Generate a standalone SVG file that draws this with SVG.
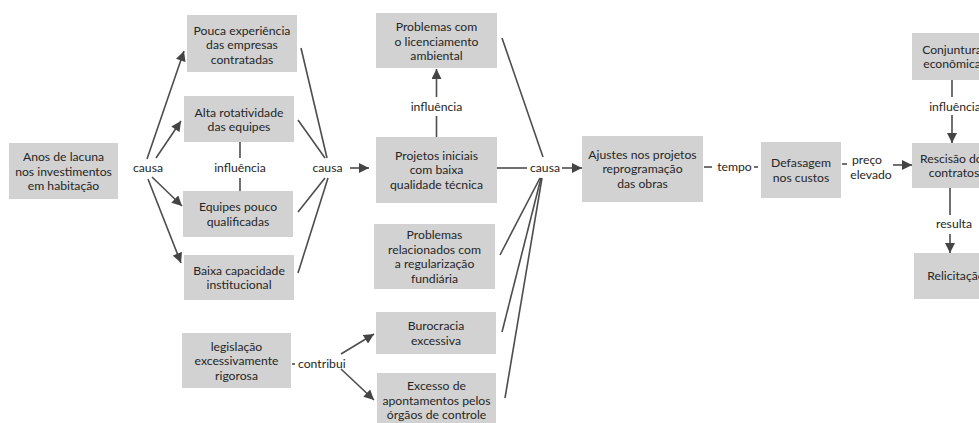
<svg xmlns="http://www.w3.org/2000/svg" width="979" height="423" viewBox="0 0 979 423">
<defs>
<marker id="ah" viewBox="0 0 10 10" refX="10" refY="5" markerWidth="11" markerHeight="10" markerUnits="userSpaceOnUse" orient="auto">
<path d="M0,0 L10,5 L0,10 z" fill="#444"/>
</marker>
</defs>
<style>
.box{fill:#d2d2d2}
text{font-family:Lato,"Open Sans","Liberation Sans",sans-serif;font-size:12.2px;fill:#262626;text-anchor:middle}
.c line,.c path{stroke:#4d4d4d;stroke-width:1.6;fill:none}
.a{marker-end:url(#ah)}
</style>
<rect width="979" height="423" fill="#fff"/>

<g id="anos"><rect class="box" x="9" y="143" width="109" height="56"/>
<text x="63.5" y="161">Anos de lacuna</text><text x="63.5" y="175.5">nos investimentos</text><text x="63.5" y="190">em habitação</text></g>

<g id="pouca"><rect class="box" x="187" y="15" width="110" height="57"/>
<text x="242" y="34.5">Pouca experiência</text><text x="242" y="49">das empresas</text><text x="242" y="63.5">contratadas</text></g>

<g id="alta"><rect class="box" x="184" y="96" width="110" height="46"/>
<text x="239" y="116.5">Alta rotatividade</text><text x="239" y="131">das equipes</text></g>

<g id="equipes"><rect class="box" x="183" y="191" width="110" height="46"/>
<text x="238" y="211">Equipes pouco</text><text x="238" y="225.5">qualificadas</text></g>

<g id="baixa"><rect class="box" x="184" y="255" width="110" height="45"/>
<text x="239" y="274.5">Baixa capacidade</text><text x="239" y="289">institucional</text></g>

<g id="legislacao"><rect class="box" x="182" y="333" width="109" height="55"/>
<text x="236.5" y="350.5">legislação</text><text x="236.5" y="365">excessivamente</text><text x="236.5" y="379.5">rigorosa</text></g>

<g id="licenciamento"><rect class="box" x="376" y="13" width="121" height="55"/>
<text x="436.5" y="31">Problemas com</text><text x="436.5" y="45.5">o licenciamento</text><text x="436.5" y="60">ambiental</text></g>

<g id="projetos"><rect class="box" x="376" y="137" width="121" height="66"/>
<text x="436.5" y="159.5">Projetos iniciais</text><text x="436.5" y="174">com baixa</text><text x="436.5" y="188.5">qualidade técnica</text></g>

<g id="fundiaria"><rect class="box" x="374" y="224" width="121" height="65"/>
<text x="434.5" y="239">Problemas</text><text x="434.5" y="253.5">relacionados com</text><text x="434.5" y="268">a regularização</text><text x="434.5" y="282.5">fundiária</text></g>

<g id="burocracia"><rect class="box" x="376" y="312" width="120" height="42"/>
<text x="436" y="330">Burocracia</text><text x="436" y="344.5">excessiva</text></g>

<g id="excesso"><rect class="box" x="377" y="373" width="119" height="54"/>
<text x="436.5" y="390">Excesso de</text><text x="436.5" y="404.5">apontamentos pelos</text><text x="436.5" y="419">órgãos de controle</text></g>

<g id="ajustes"><rect class="box" x="582" y="136" width="121" height="66"/>
<text x="642.5" y="158.5">Ajustes nos projetos</text><text x="642.5" y="173">reprogramação</text><text x="642.5" y="187.5">das obras</text></g>

<g id="defasagem"><rect class="box" x="761" y="142" width="80" height="56"/>
<text x="801" y="167">Defasagem</text><text x="801" y="181.5">nos custos</text></g>

<g id="conjuntura"><rect class="box" x="912" y="33" width="80" height="47"/>
<text x="952" y="53.5">Conjuntura</text><text x="952" y="68">econômica</text></g>

<g id="rescisao"><rect class="box" x="912" y="143" width="84" height="45"/>
<text x="954" y="162.5">Rescisão dos</text><text x="954" y="177">contratos</text></g>

<g id="relicitacao"><rect class="box" x="914" y="253" width="82" height="46"/>
<text x="956" y="280">Relicitação</text></g>

<g id="connectors" class="c">
<line class="a" x1="147" y1="159" x2="184" y2="51"/>
<line class="a" x1="156" y1="158" x2="181" y2="121"/>
<line class="a" x1="152" y1="177" x2="182" y2="206"/>
<line class="a" x1="148" y1="179" x2="181" y2="263"/>
<text x="148" y="172">causa</text>

<line x1="301" y1="48" x2="327" y2="158"/>
<line x1="298" y1="120" x2="325" y2="158"/>
<line x1="298" y1="212" x2="325" y2="178"/>
<line x1="298" y1="273" x2="328" y2="178"/>
<text x="327.5" y="172">causa</text>
<line class="a" x1="350" y1="168" x2="369" y2="168"/>

<line x1="240" y1="142" x2="240" y2="158"/>
<text x="240" y="172">influência</text>
<line x1="240" y1="178" x2="240" y2="191"/>

<line x1="436.5" y1="137" x2="436.5" y2="116"/>
<text x="436.5" y="111">influência</text>
<line class="a" x1="436.5" y1="97" x2="436.5" y2="69"/>

<line x1="497" y1="168" x2="527" y2="168"/>
<text x="545" y="172">causa</text>
<line class="a" x1="562" y1="168" x2="582" y2="168"/>
<line x1="502" y1="38" x2="543" y2="157"/>
<line x1="500" y1="255" x2="540" y2="178"/>
<line x1="502" y1="332" x2="541" y2="178"/>
<line x1="505" y1="398" x2="542" y2="178"/>

<line x1="292" y1="364" x2="295" y2="364"/>
<text x="298" y="368" style="text-anchor:start">contribui</text>
<line class="a" x1="341" y1="354" x2="374" y2="334"/>
<line class="a" x1="341" y1="369" x2="374" y2="400"/>

<line x1="704" y1="167" x2="712" y2="167"/>
<text x="734.5" y="171">tempo</text>
<line x1="754" y1="167" x2="758" y2="167"/>

<line x1="842" y1="164" x2="847" y2="164"/>
<text x="867" y="164">preço</text>
<text x="871" y="178.5">elevado</text>
<line class="a" x1="893" y1="165" x2="912" y2="165"/>

<line x1="952" y1="80" x2="952" y2="97"/>
<text x="955" y="111">influência</text>
<line class="a" x1="952" y1="115" x2="952" y2="143"/>

<line x1="950" y1="188" x2="950" y2="215"/>
<text x="954" y="228">resulta</text>
<line class="a" x1="950" y1="234" x2="950" y2="253"/>
</g>
</svg>
